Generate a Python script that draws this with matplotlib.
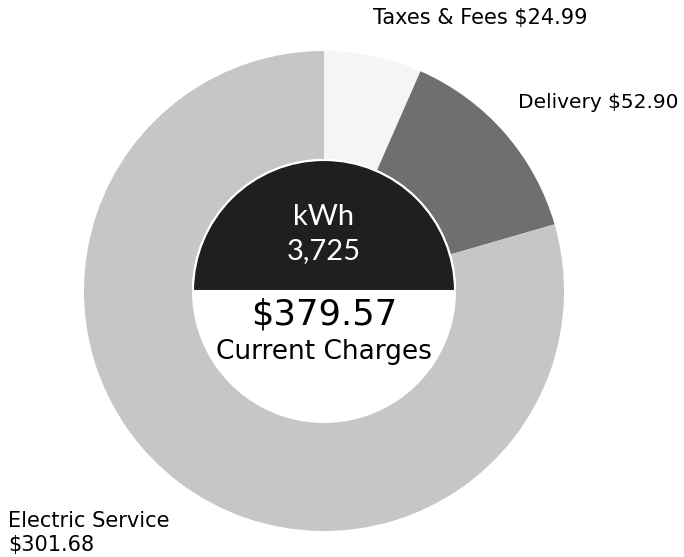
import matplotlib
matplotlib.use('Agg')
from matplotlib import pyplot as plt
from matplotlib.patches import Wedge

# bill breakdown
categories = ['Taxes & Fees', 'Delivery', 'Electric Service']
amounts = [24.99, 52.90, 301.68]
colors = ['#f5f5f5', '#6f6f6f', '#c6c6c6']
kwh = 3725
total = 379.57

W, H = 684, 557
cx, cy = 324, 266
r_out, r_in = 240, 132

fig = plt.figure(figsize=(W / 100, H / 100), dpi=100)
ax = fig.add_axes([0, 0, 1, 1])

ax.pie(amounts, colors=colors, startangle=90, counterclock=False,
       center=(cx, cy), radius=r_out,
       wedgeprops=dict(width=r_out - r_in, linewidth=0))

# dark upper half of the hole
ax.add_patch(Wedge((cx, cy), r_in - 1, 0, 180, facecolor='#1f1f1f',
                   edgecolor='white', linewidth=1.5))

ax.set_xlim(0, W)
ax.set_ylim(0, H)
ax.set_aspect('equal')
ax.axis('off')

font = 'DejaVu Sans'
ax.text(cx, 340, 'kWh', color='white', fontsize=21, ha='center', va='center',
        family='Lato')
ax.text(cx, 306, f'{kwh:,}', color='white', fontsize=21, ha='center', va='center',
        family='Lato')
ax.text(cx, 242, f'${total:.2f}', color='black', fontsize=25.5, ha='center',
        va='center', family=font)
ax.text(cx, 205, 'Current Charges', color='black', fontsize=19, ha='center',
        va='center', family=font)

ax.text(373, 539, f'{categories[0]} ${amounts[0]:.2f}', fontsize=15,
        ha='left', va='center', family=font)
ax.text(518, 454, f'{categories[1]} ${amounts[1]:.2f}', fontsize=14.5,
        ha='left', va='center', family=font)
ax.text(8, 24, f'{categories[2]}\n${amounts[2]:.2f}', fontsize=15,
        ha='left', va='center', family=font, linespacing=1.2)

fig.savefig('out.png', dpi=100)
